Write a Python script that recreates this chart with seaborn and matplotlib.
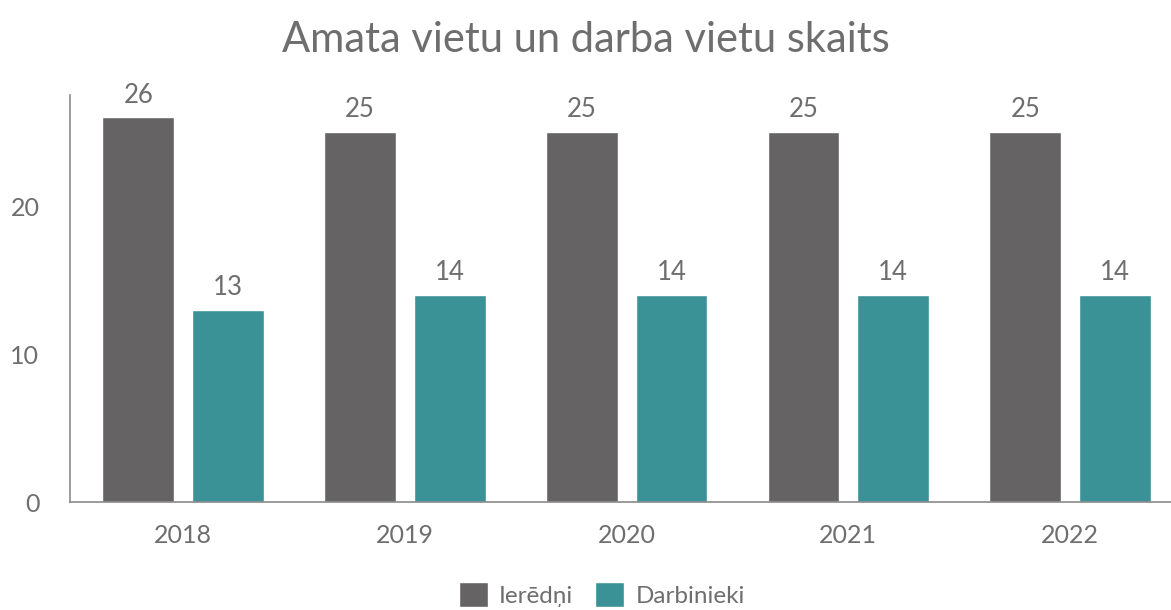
import matplotlib.pyplot as plt
import pandas as pd
import seaborn as sns

years = ["2018", "2019", "2020", "2021", "2022"]
ieredni = [26, 25, 25, 25, 25]
darbinieki = [13, 14, 14, 14, 14]
series_names = ["Ierēdņi", "Darbinieki"]
colors = ["#656364", "#3a9196"]
text_color = "#6e6e6e"

df = pd.DataFrame({
    "year": years * 2,
    "value": ieredni + darbinieki,
    "group": [series_names[0]] * len(years) + [series_names[1]] * len(years),
})

sns.set_style("white")
plt.rcParams["font.family"] = ["Lato", "DejaVu Sans"]

fig = plt.figure(figsize=(11.71, 6.10), dpi=100)
ax = fig.add_axes([70 / 1171, 0.177, 1 - 70 / 1171, 0.667])

sns.barplot(
    data=df, x="year", y="value", hue="group",
    palette=colors, width=0.81, gap=0.2, ax=ax, saturation=1,
)

for container in ax.containers:
    ax.bar_label(container, padding=7, fontsize=18.5, color=text_color)

ax.set_xlim(-0.51, 4.455)
ax.set_ylim(0, 27.5)
ax.set_yticks([0, 10, 20])
ax.set_xlabel("")
ax.set_ylabel("")
ax.tick_params(axis="both", labelsize=18, labelcolor=text_color, length=0)
ax.tick_params(axis="x", pad=16)
ax.tick_params(axis="y", pad=22)

sns.despine(ax=ax, top=True, right=True)
for side in ["left", "bottom"]:
    ax.spines[side].set_color("#8a8a8a")
    ax.spines[side].set_linewidth(1.2)

fig.suptitle("Amata vietu un darba vietu skaits", fontsize=30, color=text_color,
             y=0.966)

ax.legend(
    loc="center", bbox_to_anchor=(0.483, -0.228), ncol=2, frameon=False,
    fontsize=17.5, labelcolor=text_color, handlelength=1.2, handleheight=1.2,
    handletextpad=0.45, columnspacing=0.9,
)

fig.savefig("out.png", dpi=100)
